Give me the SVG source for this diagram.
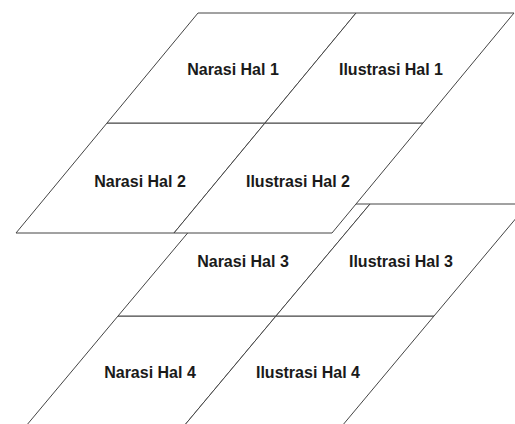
<svg xmlns="http://www.w3.org/2000/svg" width="515" height="424" viewBox="0 0 515 424">
<style>
.p{fill:#ffffff;stroke:#444444;stroke-width:1}
.t{font-family:"Liberation Sans",Arial,sans-serif;font-size:16px;font-weight:bold;fill:#1a1a1a;text-anchor:middle}
</style>
<rect width="515" height="424" fill="#ffffff"/>
<g id="connectors"></g>
<g id="narasi4"><polygon class="p" points="118,316 276,316 184,426 26,426"/><text class="t" x="150" y="378">Narasi Hal 4</text></g>
<g id="ilustrasi4"><polygon class="p" points="276,316 434,316 342,426 184,426"/><text class="t" x="308" y="378">Ilustrasi Hal 4</text></g>
<g id="narasi3"><polygon class="p" points="212,204 370,204 276,316 118,316"/><text class="t" x="243" y="267">Narasi Hal 3</text></g>
<g id="ilustrasi3"><polygon class="p" points="370,204 528,204 434,316 276,316"/><text class="t" x="401" y="267">Ilustrasi Hal 3</text></g>
<g id="narasi2"><polygon class="p" points="107,123 265,123 174,233 16,233"/><text class="t" x="140" y="187">Narasi Hal 2</text></g>
<g id="ilustrasi2"><polygon class="p" points="265,123 423,123 332,233 174,233"/><text class="t" x="298" y="187">Ilustrasi Hal 2</text></g>
<g id="narasi1"><polygon class="p" points="198,13 356,13 265,123 107,123"/><text class="t" x="233" y="75">Narasi Hal 1</text></g>
<g id="ilustrasi1"><polygon class="p" points="356,13 514,13 423,123 265,123"/><text class="t" x="391" y="75">Ilustrasi Hal 1</text></g>
</svg>
